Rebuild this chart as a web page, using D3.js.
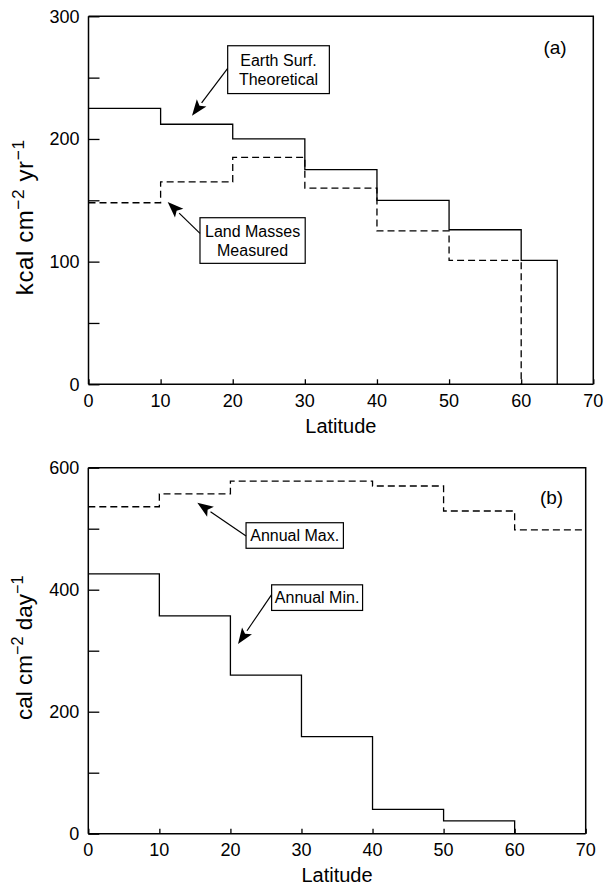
<!DOCTYPE html>
<html>
<head>
<meta charset="utf-8">
<script src="https://cdn.jsdelivr.net/npm/d3@7"></script>
<style>
  html, body { margin: 0; padding: 0; background: #fff; }
  svg { display: block; font-family: "Liberation Sans", Arial, Helvetica, sans-serif; }
</style>
</head>
<body>
<svg id="chart" width="604" height="885"></svg>
<script>
// Panel (a): annual radiation, kcal cm^-2 yr^-1
const latTicks = [0, 10, 20, 30, 40, 50, 60, 70];
const earthEdges = [0, 10, 20, 30, 40, 50, 60, 65];
const earthSurfTheoretical = [225, 212, 200, 175, 150, 126, 101];
const landEdges = [0, 10, 20, 30, 40, 50, 60];
const landMassesMeasured = [148, 165, 185, 160, 125, 101];
const yTicksA = [0, 50, 100, 150, 200, 250, 300];
const yLabelsA = [0, 100, 200, 300];

// Panel (b): daily radiation, cal cm^-2 day^-1
const maxEdges = [0, 10, 20, 30, 40, 50, 60, 70];
const annualMax = [536, 557, 578, 578, 570, 529, 498];
const minEdges = [0, 10, 20, 30, 40, 50, 60];
const annualMin = [426, 357, 260, 159, 40, 21];
const yTicksB = [0, 100, 200, 300, 400, 500, 600];
const yLabelsB = [0, 200, 400, 600];

const svg = d3.select("#chart");

// step series: each value holds from its edge to the next, then drops to the final edge value
function stepPoints(edges, values, endValue) {
  const pts = values.map((v, i) => [edges[i], v]);
  const last = edges[edges.length - 1];
  pts.push([last, endValue === undefined ? values[values.length - 1] : endValue]);
  return pts;
}

function drawArrow(g, x1, y1, x2, y2) {
  const ang = Math.atan2(y2 - y1, x2 - x1);
  const len = 16, half = 6;
  const bx = x2 - len * Math.cos(ang), by = y2 - len * Math.sin(ang);
  g.append("line")
    .attr("x1", x1).attr("y1", y1).attr("x2", bx).attr("y2", by)
    .attr("stroke", "#000").attr("stroke-width", 1.2);
  const px = -Math.sin(ang) * half, py = Math.cos(ang) * half;
  g.append("path")
    .attr("d", `M${x2},${y2}L${bx + px},${by + py}L${bx + 3.5 * Math.cos(ang)},${by + 3.5 * Math.sin(ang)}L${bx - px},${by - py}Z`)
    .attr("fill", "#000");
}

function drawPanel(p) {
  const x = d3.scaleLinear().domain([0, 70]).range([p.left, p.right]);
  const y = d3.scaleLinear().domain(p.yDomain).range([p.bottom, p.top]);
  const g = svg.append("g");

  // frame: top and right edges
  g.append("path")
    .attr("d", `M${p.left},${p.top}H${p.right}V${p.bottom}`)
    .attr("fill", "none").attr("stroke", "#000").attr("stroke-width", 1.5);

  // y axis with inward ticks
  const yAxis = d3.axisRight(y).tickValues(p.yTicks).tickSize(11).tickFormat("");
  g.append("g").attr("transform", `translate(${p.left},0)`).call(yAxis)
    .call(s => s.select(".domain").attr("stroke-width", 1.5).attr("d", `M0,${p.top}V${p.bottom}`))
    .call(s => s.selectAll(".tick line").attr("stroke-width", 1.3));
  g.append("g").selectAll("text").data(p.yLabels).join("text")
    .attr("x", p.left - 9).attr("y", d => y(d)).attr("dy", "0.36em")
    .attr("text-anchor", "end").attr("font-size", 18).text(d => d);

  // x axis with inward ticks
  const xAxis = d3.axisTop(x).tickValues(latTicks).tickSize(5).tickFormat("");
  g.append("g").attr("transform", `translate(0,${p.bottom})`).call(xAxis)
    .call(s => s.select(".domain").attr("stroke-width", 1.5).attr("d", `M${p.left},0H${p.right}`))
    .call(s => s.selectAll(".tick line").attr("stroke-width", 1.3));
  g.append("g").selectAll("text").data(latTicks).join("text")
    .attr("x", d => x(d)).attr("y", p.bottom + 16).attr("dy", "0.36em")
    .attr("text-anchor", "middle").attr("font-size", 18).text(d => d);

  g.append("text")
    .attr("x", (p.left + p.right) / 2).attr("y", p.bottom + 41.5).attr("dy", "0.36em")
    .attr("text-anchor", "middle").attr("font-size", 20).text("Latitude");

  // y axis title with superscripts
  const yt = g.append("text")
    .attr("transform", `translate(${p.left - 56},${(p.top + p.bottom) / 2 + p.yTitleShift}) rotate(-90)`)
    .attr("text-anchor", "middle").attr("font-size", p.yTitleSize)
    .attr("letter-spacing", p.yTitleSpacing);
  p.yTitle.forEach((part, i) => {
    if (part.sup) {
      yt.append("tspan").attr("font-size", p.yTitleSize * 0.72).attr("dy", -9).text(part.t);
      if (i < p.yTitle.length - 1) yt.append("tspan").attr("dy", 9).text(" ");
    } else {
      yt.append("tspan").text(part.t);
    }
  });

  // panel letter
  g.append("text")
    .attr("x", x(p.letterPos[0])).attr("y", y(p.letterPos[1])).attr("dy", "0.36em")
    .attr("text-anchor", "middle").attr("font-size", 19).text(p.letter);

  // series
  const line = d3.line().x(d => x(d[0])).y(d => y(d[1])).curve(d3.curveStepAfter);
  p.series.forEach(s => {
    g.append("path")
      .attr("d", line(s.points))
      .attr("fill", "none").attr("stroke", "#000").attr("stroke-width", 1.3)
      .attr("stroke-dasharray", s.dashed ? "7,4" : null);
  });

  // labelled boxes with arrows
  p.notes.forEach(n => {
    const x0 = x(n.box[0]), x1 = x(n.box[1]);
    const y0 = y(n.box[2]), y1 = y(n.box[3]);
    g.append("rect")
      .attr("x", x0).attr("y", y0).attr("width", x1 - x0).attr("height", y1 - y0)
      .attr("fill", "#fff").attr("stroke", "#000").attr("stroke-width", 1.2);
    const lh = 18.5;
    const cy = (y0 + y1) / 2 - (n.lines.length - 1) * lh / 2;
    n.lines.forEach((t, i) => {
      g.append("text")
        .attr("x", (x0 + x1) / 2).attr("y", cy + i * lh).attr("dy", "0.36em")
        .attr("text-anchor", "middle").attr("font-size", 16).text(t);
    });
    drawArrow(g, x(n.from[0]), y(n.from[1]), x(n.to[0]), y(n.to[1]));
  });
}

drawPanel({
  left: 88.5, right: 593.3, top: 16.3, bottom: 384.3,
  yDomain: [0, 300], yTicks: yTicksA, yLabels: yLabelsA,
  yTitle: [{t: "kcal cm"}, {t: "\u22122", sup: true}, {t: "yr"}, {t: "\u22121", sup: true}],
  yTitleShift: 17, yTitleSize: 24, yTitleSpacing: 0.6,
  letter: "(a)", letterPos: [64.7, 275],
  series: [
    {points: stepPoints(earthEdges, earthSurfTheoretical, 0), dashed: false},
    {points: stepPoints(landEdges, landMassesMeasured, 0), dashed: true}
  ],
  notes: [
    {lines: ["Earth Surf.", "Theoretical"], box: [19.3, 33.4, 276, 237], from: [19.3, 257.6], to: [14.35, 219]},
    {lines: ["Land Masses", "Measured"], box: [15.46, 30.05, 135.8, 98.6], from: [15.46, 123], to: [10.98, 148.6]}
  ]
});

drawPanel({
  left: 88.3, right: 585.7, top: 467.7, bottom: 833.7,
  yDomain: [0, 600], yTicks: yTicksB, yLabels: yLabelsB,
  yTitle: [{t: "cal cm"}, {t: "\u22122", sup: true}, {t: "day"}, {t: "\u22121", sup: true}],
  yTitleShift: -3, yTitleSize: 22.5, yTitleSpacing: 0,
  letter: "(b)", letterPos: [65.2, 551],
  series: [
    {points: stepPoints(maxEdges, annualMax), dashed: true},
    {points: stepPoints(minEdges, annualMin, 0), dashed: false}
  ],
  notes: [
    {lines: ["Annual Max."], box: [22.2, 35.9, 509.8, 467.9], from: [22.2, 488], to: [15.34, 542.6]},
    {lines: ["Annual Min."], box: [25.8, 38.6, 408, 366], from: [25.8, 392], to: [21.07, 311]}
  ]
});
</script>
</body>
</html>
